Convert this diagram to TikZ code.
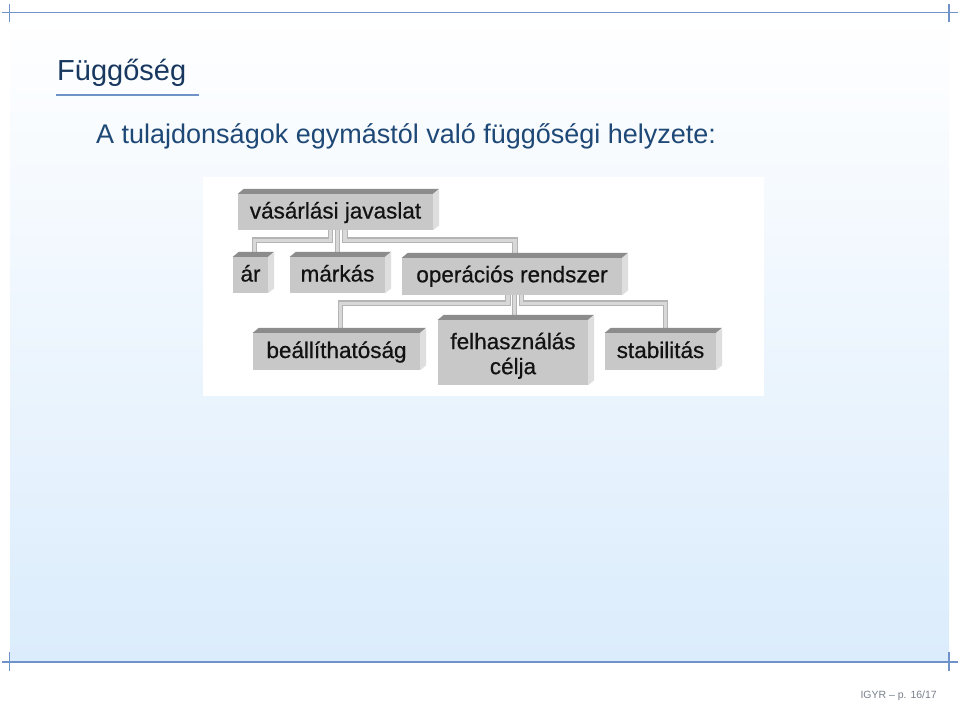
\documentclass[tikz,border=0pt]{standalone}
\usepackage{fontspec}
\setmainfont{Liberation Sans}
\newfontface\boxfont{Liberation Sans}[FakeBold=0.6]
\usetikzlibrary{calc}
\definecolor{frameblue}{RGB}{111,147,201}
\definecolor{bgbottom}{RGB}{219,236,252}
\definecolor{titleblue}{RGB}{24,56,95}
\definecolor{subblue}{RGB}{30,72,118}
\definecolor{frontgray}{RGB}{200,200,200}
\definecolor{topgray}{RGB}{140,140,140}
\definecolor{sidegray}{RGB}{222,222,222}
\definecolor{pipeedge}{RGB}{180,180,180}
\definecolor{pipefill}{RGB}{216,216,216}
\definecolor{boxtext}{RGB}{18,18,18}
\definecolor{foottext}{RGB}{120,128,140}
\pgfdeclarelayer{bgzero}
\pgfdeclarelayer{bgone}
\pgfsetlayers{bgzero,bgone,main}
\newcommand{\boxsides}[1]{%
  \fill[topgray] (#1.north west) -- ++(6,-5) -- ($(#1.north east)+(6,-5)$) -- (#1.north east) -- cycle;
  \fill[sidegray] (#1.north east) -- ++(6,-5) -- ($(#1.south east)+(6,-5)$) -- (#1.south east) -- cycle;}
\newcommand{\pipepaths}[1]{%
  \draw[#1] ([xshift=-5pt]vj.south) -- ++(0,10) -| ([xshift=4pt]ar.north);
  \draw[#1] (mk.north |- vj.south) -- (mk.north);
  \draw[#1] ([xshift=9.5pt]vj.south) -- ++(0,10) -| ([xshift=3pt]op.north);
  \draw[#1] ([xshift=-4pt]op.south) -- ++(0,8) -| ([xshift=4pt]be.north);
  \draw[#1] ([xshift=2.5pt]op.south) -- ([xshift=2.5pt]op.south |- fc.north);
  \draw[#1] ([xshift=9.5pt]op.south) -- ++(0,8) -| ([xshift=5pt]st.north);}
\begin{document}
\begin{tikzpicture}[x=1pt,y=-1pt,
  frameline/.style={draw=frameblue,line width=1.8pt},
  boxface/.style={fill=frontgray,inner sep=0pt,font=\boxfont\fontsize{22.5}{25}\selectfont,text=boxtext},
  onebox/.style={boxface,text height=17pt,text depth=4pt},
  pipeout/.style={draw=pipeedge,line width=5.5pt},
  pipein/.style={draw=pipefill,line width=3.2pt},
]
\useasboundingbox (0,0) rectangle (960,701);
\begin{pgfonlayer}{bgzero}
\fill[white] (0,0) rectangle (960,701);
\shade[top color=white,bottom color=bgbottom] (10,12) rectangle (949,662);
\draw[frameline] (2,12.5) -- (958,12.5);
\draw[frameline] (9.5,4) -- (9.5,22);
\draw[frameline] (949,4) -- (949,22);
\draw[frameline] (2,662) -- (958,662);
\draw[frameline] (9.5,652) -- (9.5,671);
\draw[frameline] (949,652) -- (949,671);
\fill[white] (203,177) rectangle (764,396);
\end{pgfonlayer}

\node[anchor=base west,inner sep=0pt,text=titleblue,font=\fontsize{29}{32}\selectfont] (title) at (57,80) {Függőség};
\draw[frameline] (56,95) -- (199,95);
\node[anchor=base west,inner sep=0pt,text=subblue,font=\fontsize{27}{30}\selectfont] (sub) at (96,143) {A tulajdonságok egymástól való függőségi helyzete:};

\node[onebox,minimum width=195pt,minimum height=36pt] (vj) at (335.5,212) {vásárlási javaslat};
\node[onebox,minimum width=35pt,minimum height=36pt] (ar) at (250.5,275) {ár};
\node[onebox,minimum width=95pt,minimum height=36pt] (mk) at (337.5,275) {márkás};
\node[onebox,text depth=5.5pt,minimum width=220pt,minimum height=37pt] (op) at (512,276.5) {operációs rendszer};
\node[onebox,minimum width=167pt,minimum height=37pt] (be) at (336.5,351.5) {beállíthatóság};
\node[boxface,align=center,minimum width=150pt,minimum height=65pt] (fc) at (513,352.5) {\rule{0pt}{23pt}felhasználás\\célja};
\node[onebox,minimum width=111pt,minimum height=37pt] (st) at (660.5,351.5) {stabilitás};

\begin{pgfonlayer}{bgone}
\pipepaths{pipeout}
\pipepaths{pipein}
\end{pgfonlayer}

\boxsides{vj}
\boxsides{ar}
\boxsides{mk}
\boxsides{op}
\boxsides{be}
\boxsides{fc}
\boxsides{st}

\node[anchor=base east,inner sep=0pt,text=foottext,font=\fontsize{10.5}{12}\selectfont] (foot) at (937,698) {IGYR – p. 16/17};
\end{tikzpicture}
\end{document}
